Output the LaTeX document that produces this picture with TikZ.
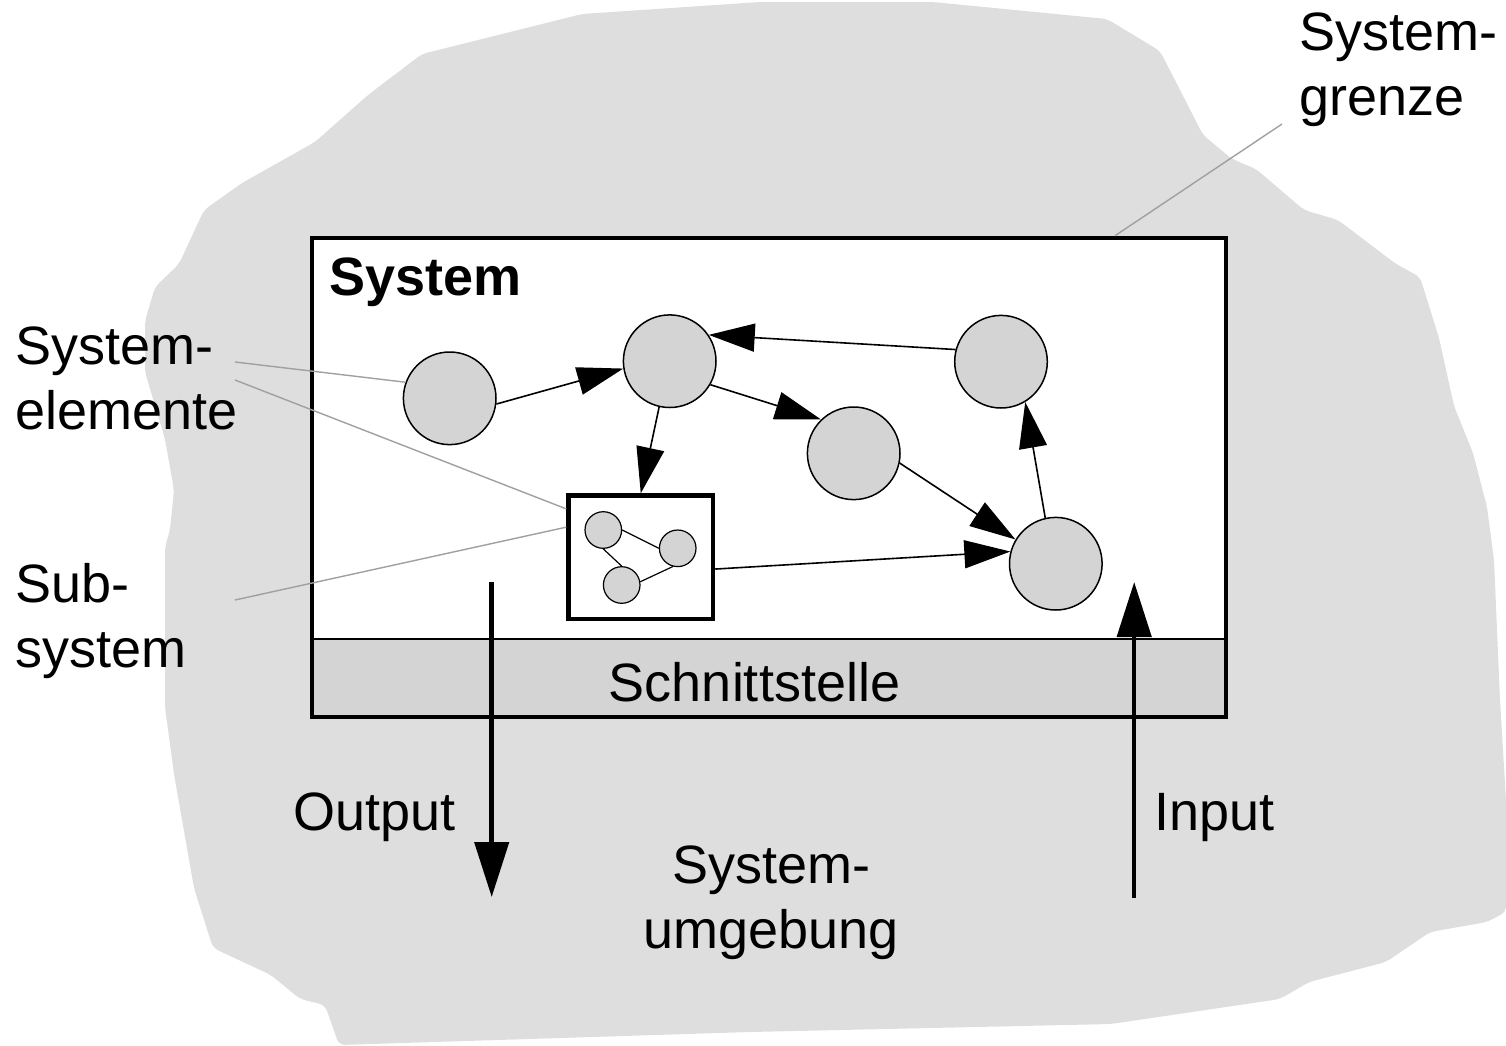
\documentclass[tikz,border=0pt]{standalone}
\usepackage{fontspec}
\setmainfont{Liberation Sans}
\usetikzlibrary{arrows.meta}
\definecolor{blobgray}{RGB}{222,222,222}
\definecolor{elemgray}{RGB}{212,212,212}
\definecolor{leadgray}{RGB}{160,160,160}
\tikzset{
  elem/.style={circle,draw=black,fill=elemgray,line width=1.5pt,minimum size=92.6pt,inner sep=0pt},
  selem/.style={circle,draw=black,fill=elemgray,line width=1.2pt,minimum size=36.6pt,inner sep=0pt},
  flow/.style={line width=1.6pt,-{Triangle[length=46pt,width=28pt]}},
  ioflow/.style={line width=4.5pt,-{Triangle[length=55pt,width=34pt]}},
  leader/.style={draw=leadgray,line width=1.4pt},
  lbl/.style={inner sep=0pt,font=\fontsize{54}{65}\selectfont},
}
\begin{document}
\begin{tikzpicture}[x=1pt,y=-1pt]
\useasboundingbox (0,0) rectangle (1506,1045);
% environment blob
\fill[blobgray,rounded corners=6pt] (582,14) -- (760,2) -- (933,2) -- (1107,19) -- (1160,51) -- (1179,88)
  -- (1203,135) -- (1232,159) -- (1256,169) -- (1304,210) -- (1338,220) -- (1396,264) -- (1420,277)
  -- (1439,338) -- (1454,406) -- (1473,453) -- (1487,507) -- (1494,560) -- (1500,700) -- (1506,800)
  -- (1506,912) -- (1487,922) -- (1430,932) -- (1386,962) -- (1309,982) -- (1280,999) -- (1111,1024)
  -- (750,1032) -- (339,1045) -- (325,1005) -- (300,999) -- (271,975) -- (213,948) -- (194,888)
  -- (174,774) -- (165,707) -- (165,547) -- (170,530) -- (174,490) -- (165,439) -- (145,372)
  -- (145,321) -- (155,287) -- (179,264) -- (204,210) -- (242,183) -- (315,142) -- (368,95)
  -- (422,54) -- cycle;
% system box
\fill[white] (312,238) rectangle (1226,717);
\fill[elemgray] (312,639) rectangle (1226,717);
\draw[line width=1.2pt] (312,639) -- (1226,639);
\node[draw=black,line width=4.5pt,rectangle,minimum width=914pt,minimum height=479pt,inner sep=0pt] (sys) at (769,477.5) {};
\node[lbl,anchor=base west,font=\fontsize{54}{65}\selectfont\bfseries] (systitle) at (329.5,295) {System};
\node[lbl,anchor=base] (schnitt) at (754.5,701) {Schnittstelle};
% elements
\node[elem] (E1) at (449.7,398.3) {};
\node[elem] (E2) at (669.7,361.2) {};
\node[elem] (E3) at (1001,361.7) {};
\node[elem] (E4) at (853.7,453.3) {};
\node[elem] (E5) at (1055.8,563.7) {};
% subsystem
\node[draw=black,line width=4.5pt,rectangle,minimum width=144.5pt,minimum height=123.5pt,inner sep=0pt,fill=white] (Sub) at (640.75,557.25) {};
\node[selem] (s1) at (603.3,530) {};
\node[selem] (s2) at (677.7,548.3) {};
\node[selem] (s3) at (621.7,585) {};
\draw[line width=1.2pt] (s1.east) -- (s2.west);
\draw[line width=1.2pt] (s1.south) -- (s3.north);
\draw[line width=1.2pt] (s3.10) -- (s2.-105);
% flows
\draw[flow] (E1.-7) -- (E2.-171);
\draw[flow] (E3.165.7) -- (E2.34);
\draw[flow] (E2.-30.3) -- (E4.134);
\draw[flow] (E2.-103.6) -- (Sub.north);
\draw[flow] (E4.-12.2) -- (E5.149.2);
\draw[flow] (Sub.-9.7) -- (E5.165);
\draw[flow] (E5.103) -- (E3.-59.3);
% input / output
\coordinate (o1) at (491.7,582);
\coordinate (o2) at (491.7,897);
\coordinate (i1) at (1134.2,898);
\coordinate (i2) at (1134.2,582);
\draw[ioflow] (o1) -- (o2);
\draw[ioflow] (i1) -- (i2);
% labels (base anchor = baseline of last line)
\node[lbl,anchor=base west,align=left] (lelem) at (15.5,429) {System-\\elemente};
\node[lbl,anchor=base west,align=left] (lsub) at (15.5,667) {Sub-\\system};
\node[lbl,anchor=base west,align=left] (lgrenze) at (1299.5,115) {System-\\grenze};
\node[lbl,anchor=base west] (lout) at (293,830) {Output};
\node[lbl,anchor=base west] (lin) at (1154,830) {Input};
\node[lbl,anchor=base,align=center] (lumg) at (771,948) {System-\\umgebung};
% leaders
\coordinate (le1) at (235,362);
\coordinate (le2) at (235,380);
\coordinate (ls1) at (235,600);
\coordinate (lg1) at (1282,124);
\draw[leader] (le1) -- (E1.160);
\draw[leader] (le2) -- (Sub.147);
\draw[leader] (ls1) -- (Sub.158);
\draw[leader] (lg1) -- ([xshift=346pt]sys.north);
\end{tikzpicture}
\end{document}
